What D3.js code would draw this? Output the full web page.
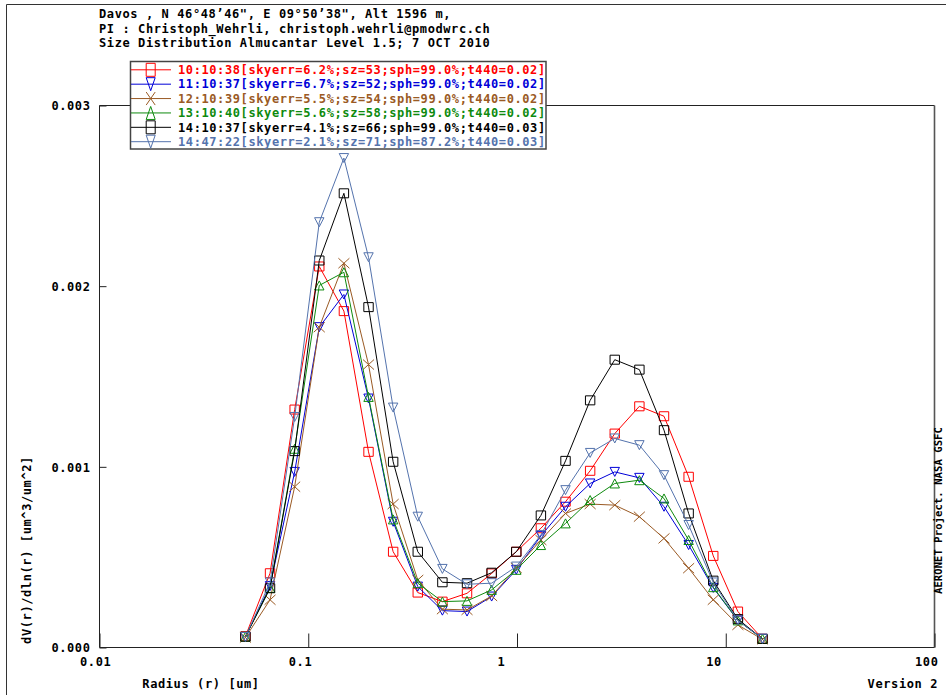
<!DOCTYPE html>
<html>
<head>
<meta charset="utf-8">
<script src="https://cdn.jsdelivr.net/npm/d3@7"></script>
<style>
  html, body { margin: 0; padding: 0; background: #fff; }
  svg { display: block; }
  text {
    font-family: "DejaVu Sans Mono", "Liberation Mono", monospace;
    font-weight: bold;
    font-size: 12px;
    letter-spacing: 0.6px;
  }
</style>
</head>
<body>
<svg id="chart" width="946" height="695"></svg>
<script>
// AERONET almucantar retrieval radius bins (um)
const radii = [0.050000, 0.065604, 0.086077, 0.112939, 0.148184, 0.194429, 0.255105,
               0.334716, 0.439173, 0.576227, 0.756052, 0.991996, 1.301571, 1.707757,
               2.240702, 2.939966, 3.857452, 5.061260, 6.640745, 8.713145, 11.432287, 15.000000];

// dV(r)/dln(r) [um^3/um^2] for each retrieval
const v101038 = [0.000062, 0.000411, 0.001317, 0.002109, 0.001862, 0.001083, 0.000530,
                 0.000304, 0.000254, 0.000300, 0.000410, 0.000530, 0.000660, 0.000807,
                 0.000978, 0.001184, 0.001335, 0.001280, 0.000945, 0.000507, 0.000199, 0.000048];
const v111037 = [0.000058, 0.000340, 0.000972, 0.001773, 0.001954, 0.001378, 0.000696,
                 0.000337, 0.000204, 0.000199, 0.000282, 0.000430, 0.000618, 0.000779,
                 0.000908, 0.000972, 0.000939, 0.000779, 0.000567, 0.000330, 0.000150, 0.000048];
const v121039 = [0.000055, 0.000264, 0.000890, 0.001773, 0.002127, 0.001566, 0.000794,
                 0.000374, 0.000212, 0.000208, 0.000285, 0.000440, 0.000595, 0.000742,
                 0.000794, 0.000788, 0.000724, 0.000604, 0.000439, 0.000264, 0.000125, 0.000045];
const v131040 = [0.000060, 0.000330, 0.001100, 0.002004, 0.002077, 0.001387, 0.000709,
                 0.000356, 0.000254, 0.000258, 0.000319, 0.000430, 0.000567, 0.000687,
                 0.000816, 0.000908, 0.000926, 0.000825, 0.000595, 0.000334, 0.000150, 0.000048];
const v141037 = [0.000060, 0.000328, 0.001087, 0.002142, 0.002514, 0.001884, 0.001028,
                 0.000530, 0.000361, 0.000356, 0.000414, 0.000530, 0.000731, 0.001033,
                 0.001368, 0.001593, 0.001538, 0.001203, 0.000742, 0.000370, 0.000157, 0.000048];
const v144722 = [0.000058, 0.000360, 0.001276, 0.002354, 0.002709, 0.002160, 0.001328,
                 0.000724, 0.000435, 0.000350, 0.000356, 0.000448, 0.000623, 0.000871,
                 0.001077, 0.001157, 0.001120, 0.000954, 0.000678, 0.000360, 0.000150, 0.000048];

const seriesLabels = [
  "10:10:38[skyerr=6.2%;sz=53;sph=99.0%;t440=0.02]",
  "11:10:37[skyerr=6.7%;sz=52;sph=99.0%;t440=0.02]",
  "12:10:39[skyerr=5.5%;sz=54;sph=99.0%;t440=0.02]",
  "13:10:40[skyerr=5.6%;sz=58;sph=99.0%;t440=0.02]",
  "14:10:37[skyerr=4.1%;sz=66;sph=99.0%;t440=0.03]",
  "14:47:22[skyerr=2.1%;sz=71;sph=87.2%;t440=0.03]"
];
const seriesValues = [v101038, v111037, v121039, v131040, v141037, v144722];
const seriesColors = ["#ff0000", "#0000d8", "#9a5a24", "#0e8a0e", "#000000", "#5473ad"];
const seriesMarkers = ["square", "tridown", "cross", "triup", "square", "tridown"];

const titleLines = [
  "Davos , N 46\u00b048\u201946\", E 09\u00b050\u201938\", Alt 1596 m,",
  "PI : Christoph_Wehrli, christoph.wehrli@pmodwrc.ch",
  "Size Distribution Almucantar Level 1.5; 7 OCT 2010"
];
const xTickValues = [0.01, 0.1, 1, 10, 100];
const xTickLabels = ["0.01", "0.1", "1", "10", "100"];
const yTickValues = [0, 0.001, 0.002, 0.003];
const yTickLabels = ["0.000", "0.001", "0.002", "0.003"];

const svg = d3.select("#chart");
const plotLeft = 99.5, plotRight = 934.5, plotTop = 105.5, plotBottom = 647.5;

const x = d3.scaleLog().domain([0.01, 100]).range([plotLeft, plotRight]);
const y = d3.scaleLinear().domain([0, 0.003]).range([plotBottom, plotTop]);

// page border
svg.append("path")
  .attr("d", "M6.5,695V4.5H946")
  .attr("fill", "none").attr("stroke", "#333").attr("stroke-width", 1);

// title block
svg.append("g").selectAll("text").data(titleLines).join("text")
  .attr("x", 99).attr("y", (d, i) => 18 + i * 14.6)
  .attr("fill", "#000").text(d => d);

// plot frame
const frame = svg.append("g");
frame.append("path")
  .attr("d", `M${plotRight},${plotTop}H${plotLeft}V${plotBottom}H${plotRight}`)
  .attr("fill", "none").attr("stroke", "#222").attr("stroke-width", 1);
frame.append("line")
  .attr("x1", plotRight).attr("x2", plotRight).attr("y1", plotTop).attr("y2", plotBottom)
  .attr("stroke", "#555").attr("stroke-width", 1.6);

// axes
const xAxis = svg.append("g")
  .attr("transform", `translate(0,${plotBottom})`)
  .call(d3.axisBottom(x).tickValues(xTickValues)
    .tickFormat((d, i) => xTickLabels[i]).tickSize(-14).tickSizeOuter(0));
xAxis.select(".domain").remove();
xAxis.selectAll(".tick line").attr("stroke", "#222");
xAxis.selectAll(".tick text")
  .attr("text-anchor", "start").attr("x", -20).attr("y", 18.5).attr("dy", null)
  .attr("fill", "#000");
xAxis.attr("font-family", null).attr("font-size", null);

const yAxis = svg.append("g")
  .attr("transform", `translate(${plotLeft},0)`)
  .call(d3.axisLeft(y).tickValues(yTickValues)
    .tickFormat((d, i) => yTickLabels[i]).tickSize(-7).tickSizeOuter(0));
yAxis.select(".domain").remove();
yAxis.selectAll(".tick line").attr("stroke", "#222");
yAxis.selectAll(".tick text")
  .attr("text-anchor", "end").attr("x", -9).attr("dy", "0.36em")
  .attr("fill", "#000");
yAxis.attr("font-family", null).attr("font-size", null);

// axis titles and credits
svg.append("text").attr("x", 201).attr("y", 688).attr("text-anchor", "middle")
  .text("Radius (r) [um]");
svg.append("text").attr("x", 938).attr("y", 688).attr("text-anchor", "end")
  .text("Version 2");
svg.append("text")
  .attr("transform", "translate(31,550) rotate(-90)")
  .attr("text-anchor", "middle")
  .text("dV(r)/dln(r) [um^3/um^2]");
svg.append("text")
  .attr("transform", "translate(942,594) rotate(-90)")
  .attr("text-anchor", "start")
  .style("font-size", "10.5px").style("letter-spacing", "0.1px")
  .text("AERONET Project. NASA GSFC");

// marker paths, half-width w and half-height h
function markerPath(type, w, h) {
  switch (type) {
    case "square": return `M${-w},${-h}H${w}V${h}H${-w}Z`;
    case "tridown": return `M${-w},${-h}H${w}L0,${h}Z`;
    case "triup": return `M${-w},${h}H${w}L0,${-h}Z`;
    case "cross": return `M${-w},${-h}L${w},${h}M${-w},${h}L${w},${-h}`;
  }
}

// curves
const line = d3.line().x(d => x(d[0])).y(d => y(d[1]));
const plot = svg.append("g");
seriesValues.forEach((vals, s) => {
  const pts = radii.map((r, i) => [r, vals[i]]);
  const g = plot.append("g");
  g.append("path").datum(pts)
    .attr("d", line).attr("fill", "none")
    .attr("stroke", seriesColors[s]).attr("stroke-width", 1);
  g.selectAll("path.m").data(pts).join("path").attr("class", "m")
    .attr("transform", d => `translate(${x(d[0])},${y(d[1])})`)
    .attr("d", markerPath(seriesMarkers[s], seriesMarkers[s] === "cross" ? 5.5 : 4.7,
                          seriesMarkers[s] === "cross" ? 5 : 4.5))
    .attr("fill", "none").attr("stroke", seriesColors[s]).attr("stroke-width", 1);
});

// legend
const lg = svg.append("g");
lg.append("rect")
  .attr("x", 130.5).attr("y", 61.5).attr("width", 415.5).attr("height", 87.5)
  .attr("fill", "#fff").attr("stroke", "#444").attr("stroke-width", 1.5);
seriesLabels.forEach((lab, s) => {
  const cy = 69.8 + s * 14.38;
  lg.append("line").attr("x1", 131).attr("x2", 171).attr("y1", cy).attr("y2", cy)
    .attr("stroke", seriesColors[s]).attr("stroke-width", 1);
  lg.append("path")
    .attr("transform", `translate(150.7,${cy})`)
    .attr("d", markerPath(seriesMarkers[s], 4.5, 6.5))
    .attr("fill", "none").attr("stroke", seriesColors[s]).attr("stroke-width", 1);
  lg.append("text").attr("x", 178).attr("y", cy + 4.3)
    .attr("fill", seriesColors[s]).text(lab);
});
</script>
</body>
</html>
